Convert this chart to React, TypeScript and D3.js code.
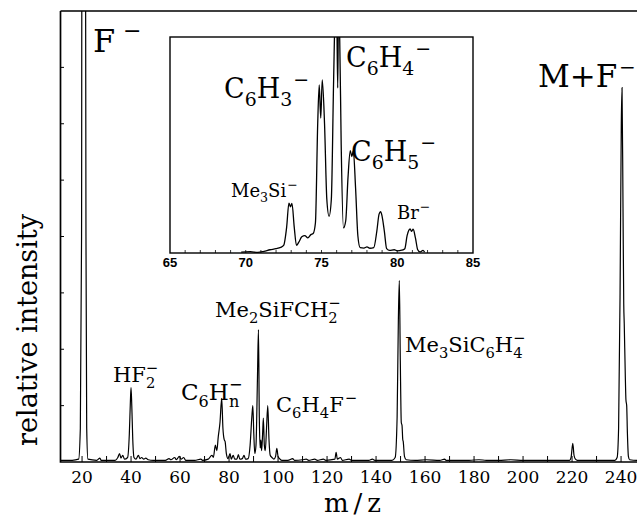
import React from "react";
import * as d3 from "d3";

// main spectrum (m/z, intensity in axis units 0..8)
const mainMz = [
  11, 16, 18.6, 19.3, 19.8, 20, 21.3, 21.6, 21.9, 22.4, 26, 27.3, 27.8, 33.5, 34.6, 35.3, 35.9, 36.6, 37.3,
  38.6, 39.3, 39.75, 40, 40.3, 40.7, 41.2, 42, 43, 43.6, 44.3, 45.2, 46, 47, 49, 54, 55.5, 56.3, 57.8, 58.5,
  59.7, 60.4, 61.5, 62.3, 66, 68.5, 69.2, 71.5, 73, 73.6, 74.4, 75, 75.6, 76.3, 77, 77.5, 78, 78.4, 78.9,
  79.6, 80.4, 80.9, 81.7, 82.3, 83.2, 83.8, 84.4, 85.4, 86.1, 86.7, 87.8, 88.6, 89.3, 89.7, 90.1, 90.5, 91,
  91.6, 92, 92.35, 92.7, 93, 93.3, 93.7, 94, 94.4, 94.8, 95.3, 95.8, 96.3, 96.8, 97.5, 98.3, 99, 99.5, 100,
  100.6, 101.5, 104, 106, 106.7, 110, 111.5, 112.5, 115, 116, 118.5, 119.5, 123.2, 123.7, 124.2, 125.5,
  126.2, 129, 130, 137, 138.5, 139.5, 146.5, 147.8, 148.6, 149.1, 149.5, 149.9, 150.3, 150.6, 150.9, 151.1,
  151.6, 152.3, 156, 160.5, 166, 168, 168.6, 178, 182, 185, 190, 195, 200, 207, 219, 219.6, 220.3, 220.8,
  221.4, 222.2, 230, 237.5, 238.4, 239, 239.6, 240.1, 240.4, 240.8, 241.1, 241.3, 241.7, 242, 242.3, 242.6,
  243, 243.5, 246.5, 250,
];
const mainInt = [
  0.03, 0.03, 0.05, 0.6, 4, 12, 12, 4, 0.6, 0.05, 0.03, 0.07, 0.03, 0.03, 0.08, 0.15, 0.07, 0.12, 0.05,
  0.08, 0.5, 1.1, 1.32, 1.0, 0.4, 0.08, 0.05, 0.12, 0.06, 0.08, 0.05, 0.07, 0.04, 0.03, 0.03, 0.06, 0.04, 0.08, 0.04,
  0.1, 0.05, 0.08, 0.03, 0.03, 0.05, 0.03, 0.05, 0.12, 0.08, 0.3, 0.2, 0.45, 0.7, 1.13, 0.6, 0.4, 0.36, 0.15,
  0.06, 0.15, 0.05, 0.12, 0.05, 0.05, 0.13, 0.05, 0.06, 0.12, 0.05, 0.06, 0.3, 0.8, 1.0, 0.5, 0.15, 0.3,
  1.5, 2.35, 0.8, 0.25, 0.39, 0.2, 0.5, 0.78, 0.3, 0.2, 0.6, 1.0, 0.4, 0.12, 0.08, 0.05, 0.1, 0.24, 0.1,
  0.06, 0.03, 0.03, 0.06, 0.03, 0.04, 0.05, 0.03, 0.05, 0.03, 0.05, 0.03, 0.05, 0.17, 0.05, 0.08,
  0.03, 0.05, 0.03, 0.03, 0.05, 0.03, 0.03, 0.08, 0.8, 2.5, 3.22, 1.8, 0.7, 0.65, 0.4, 0.36,
  0.1, 0.04, 0.03, 0.04, 0.03, 0.05, 0.03, 0.03, 0.04, 0.03, 0.03, 0.04, 0.03, 0.03, 0.03, 0.08, 0.33, 0.12,
  0.05, 0.03, 0.03, 0.03, 0.08, 0.6, 3.0, 6.0, 6.64, 4.5, 2.8, 2.46, 1.6, 1.1, 1.0, 0.5,
  0.1, 0.04, 0.03, 0.03,
];

// inset, m/z 65-85 (intensity in % of inset height)
const insetMz = [
  69.7, 70.3, 70.8, 71.2, 71.6, 72, 72.3, 72.5, 72.7, 72.85, 72.95, 73.05, 73.2, 73.35, 73.5, 73.7, 73.9, 74.1,
  74.3, 74.45, 74.6, 74.75, 74.85, 74.95, 75.05, 75.2, 75.35, 75.5, 75.65, 75.8, 75.9, 76, 76.07, 76.12, 76.2,
  76.3, 76.45, 76.6, 76.75, 76.9, 77, 77.1, 77.25, 77.4, 77.55, 77.8, 78, 78.2, 78.45, 78.65, 78.8, 78.9, 79,
  79.15, 79.3, 79.5, 79.8, 80, 80.3, 80.5, 80.65, 80.85, 80.95, 81.05, 81.2, 81.35, 81.5, 81.7, 81.8,
];
const insetInt = [
  0.4, 0.6, 0.3, 0.8, 1.5, 2, 2.6, 3.5, 12, 23.1, 21.4, 23, 12, 3.5, 5, 7.5, 8, 7,
  8.5, 9, 14, 60, 77.8, 62.5, 80.1, 60, 25, 17, 25, 80, 110, 112, 76.4, 110, 100,
  50, 11.6, 15, 35, 47.4, 44.6, 47.4, 30, 8, 2.5, 2.3, 2.8, 2.2, 2.5, 10, 18, 19.1, 17,
  10, 2, 1.2, 1.5, 1, 1.3, 2, 8, 11.1, 10, 11, 7, 1.5, 0.5, 1.2, 0.4,
];

const mzTickLabels = [20, 40, 60, 80, 100, 120, 140, 160, 180, 200, 220, 240];
const insetTickLabels = [65, 70, 75, 80, 85];

const serif = "'DejaVu Serif', serif";

// main plot
const x = d3.scaleLinear().domain([11, 250]).range([60, 60 + 239 * 2.45]);
const y = d3.scaleLinear().domain([0, 8]).range([462, 11]);
// inset
const xi = d3.scaleLinear().domain([65, 85]).range([170, 473]);
const yi = d3.scaleLinear().domain([0, 100]).range([253, 37]);

const mainLine = d3
  .line<number>()
  .x((d, i) => x(mainMz[i]))
  .y((d) => y(d))
  .curve(d3.curveMonotoneX);

const insetLine = d3
  .line<number>()
  .x((d, i) => xi(insetMz[i]))
  .y((d) => yi(d))
  .curve(d3.curveMonotoneX);

// formula parts: n normal, b subscript, p superscript, s superscript stacked over previous subscript
type Part = [string, "n" | "b" | "p" | "s"];

function Chem({ parts, x0, y0, fs }: { parts: Part[]; x0: number; y0: number; fs: number }) {
  const small = fs * 0.7;
  return (
    <text x={x0} y={y0} fontSize={fs} fontFamily={serif} fill="#000">
      {parts.map(([t, k], i) => {
        if (k === "n") return <tspan key={i} y={y0} fontSize={fs}>{t}</tspan>;
        if (k === "b") return <tspan key={i} y={y0 + fs * 0.3} fontSize={small}>{t}</tspan>;
        const prev = parts[i - 1][0];
        const dx = k === "s" ? -prev.length * 0.64 * small : 1;
        return (
          <tspan key={i} dx={dx} y={y0 - fs * 0.45} fontSize={small}>{t}</tspan>
        );
      })}
    </text>
  );
}

export default function App() {
  const mainTicks = d3.range(20, 250, 10);
  const yTicks = d3.range(1, 8);
  const insetTicks = d3.range(66, 85, 1);

  return (
    <svg
      width={637}
      height={518}
      style={{ position: "absolute", left: 0, top: 0, background: "#fff" }}
    >
      <defs>
        <clipPath id="mainClip">
          <rect x={60} y={11} width={600} height={451} />
        </clipPath>
        <clipPath id="insetClip">
          <rect x={170} y={37} width={303} height={216} />
        </clipPath>
      </defs>

      {/* main frame */}
      <path d="M60.5,11 L60.5,462 L660,462 M60.5,11 L660,11" fill="none" stroke="#000" strokeWidth={1.7} />
      {mainTicks.map((t) => (
        <line key={t} x1={x(t)} x2={x(t)} y1={462} y2={456} stroke="#000" strokeWidth={1} />
      ))}
      {yTicks.map((t) => (
        <line key={t} x1={60} x2={64} y1={y(t)} y2={y(t)} stroke="#000" strokeWidth={1} />
      ))}
      {mzTickLabels.map((t) => (
        <text key={t} x={x(t)} y={483} textAnchor="middle" fontSize={17} fontFamily={serif}>
          {t}
        </text>
      ))}

      <path d={mainLine(mainInt) ?? ""} fill="none" stroke="#000" strokeWidth={1.2}
        clipPath="url(#mainClip)" />

      {/* axis titles */}
      <text transform="translate(37,330) rotate(-90)" textAnchor="middle" fontSize={27} fontFamily={serif}>
        relative intensity
      </text>
      <text x={355} y={512} textAnchor="middle" fontSize={26} fontFamily={serif} letterSpacing={5}>
        m/z
      </text>

      {/* peak labels, main */}
      <text x={93} y={52} fontSize={32} fontFamily={serif}>F</text>
      <text x={123} y={38} fontSize={22} fontFamily={serif}>−</text>
      <text x={538} y={87} fontSize={31} fontFamily={serif}>M+F</text>
      <text x={619} y={74} fontSize={20} fontFamily={serif}>−</text>
      <Chem x0={113} y0={382} fs={21} parts={[["HF", "n"], ["2", "b"], ["−", "s"]]} />
      <Chem x0={181} y0={400} fs={23} parts={[["C", "n"], ["6", "b"], ["H", "n"], ["n", "b"], ["−", "s"]]} />
      <Chem x0={215} y0={317} fs={21}
        parts={[["Me", "n"], ["2", "b"], ["SiFCH", "n"], ["2", "b"], ["−", "s"]]} />
      <Chem x0={276} y0={412} fs={21}
        parts={[["C", "n"], ["6", "b"], ["H", "n"], ["4", "b"], ["F", "n"], ["−", "p"]]} />
      <Chem x0={405} y0={352} fs={21}
        parts={[["Me", "n"], ["3", "b"], ["SiC", "n"], ["6", "b"], ["H", "n"], ["4", "b"], ["−", "s"]]} />

      {/* inset */}
      <rect x={170} y={37} width={303} height={216} fill="#fff" stroke="#000" strokeWidth={1.4} />
      {insetTicks.map((t) => (
        <line key={t} x1={xi(t)} x2={xi(t)} y1={253} y2={250} stroke="#000" strokeWidth={0.8} />
      ))}
      {insetTickLabels.map((t) => (
        <text key={t} x={xi(t)} y={267} textAnchor="middle" fontSize={13} fontWeight="bold"
          fontFamily="'Liberation Sans', Arial, sans-serif">
          {t}
        </text>
      ))}
      <path d={insetLine(insetInt) ?? ""} fill="none" stroke="#000" strokeWidth={1.3}
        clipPath="url(#insetClip)" />

      <Chem x0={224} y0={98} fs={27} parts={[["C", "n"], ["6", "b"], ["H", "n"], ["3", "b"], ["−", "p"]]} />
      <Chem x0={346} y0={67} fs={27} parts={[["C", "n"], ["6", "b"], ["H", "n"], ["4", "b"], ["−", "p"]]} />
      <Chem x0={351} y0={161} fs={27} parts={[["C", "n"], ["6", "b"], ["H", "n"], ["5", "b"], ["−", "p"]]} />
      <Chem x0={231} y0={197} fs={18} parts={[["Me", "n"], ["3", "b"], ["Si", "n"], ["−", "p"]]} />
      <Chem x0={397} y0={219} fs={18} parts={[["Br", "n"], ["−", "p"]]} />
    </svg>
  );
}
